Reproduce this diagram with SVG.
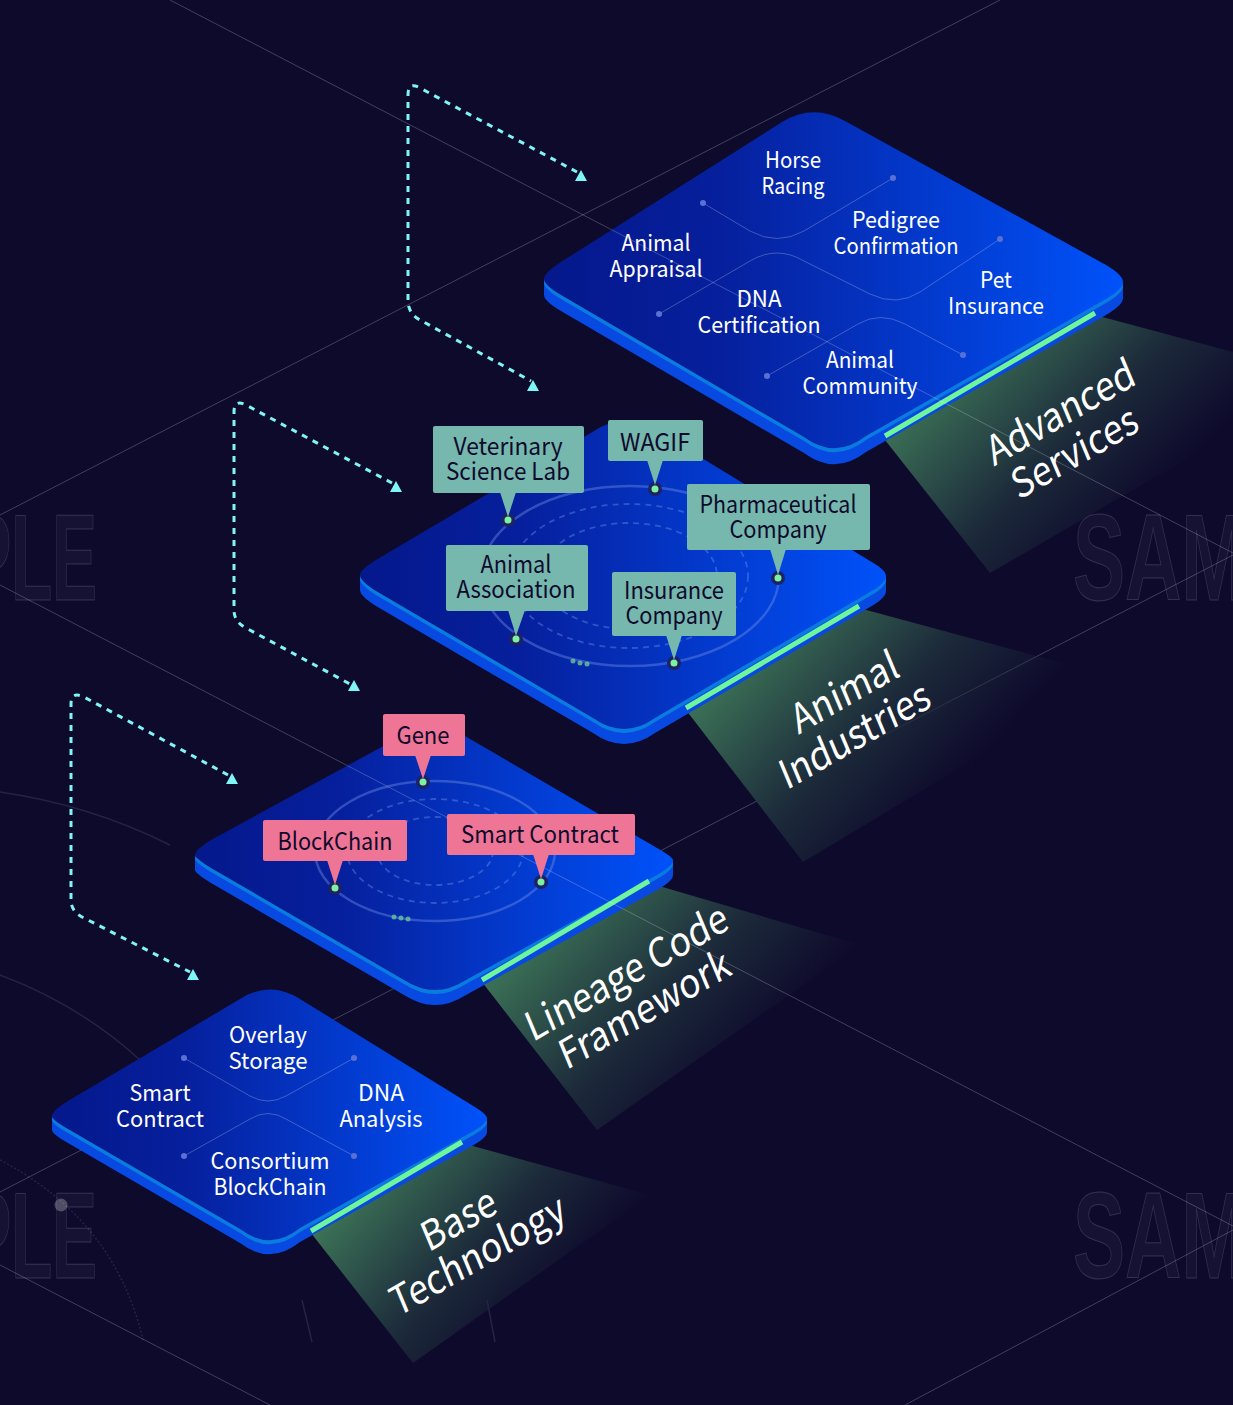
<svg xmlns="http://www.w3.org/2000/svg" xmlns:xlink="http://www.w3.org/1999/xlink" width="1233" height="1405" viewBox="0 0 1233 1405">
<style>
text{font-family:"Noto Sans CJK KR","Noto Sans",sans-serif;text-anchor:middle}
.w{fill:#fff;font-size:22.5px}
.d{fill:#0e0a2c;font-size:24px}
.big{fill:#fff;font-size:36.5px}
.wm{font-family:"Liberation Sans",sans-serif;font-weight:700;font-size:122px;fill:#fff;fill-opacity:.035;stroke:#fff;stroke-opacity:.14;stroke-width:1}
.bg{fill:none;stroke:#fff;stroke-opacity:.22;stroke-width:1}
.dim{fill:none;stroke:#fff;stroke-opacity:.1;stroke-width:1.5}
.side{fill:#0849e2}
.rim{fill:#0a7ce0}
.bar{stroke:#6ff59c;stroke-width:5;fill:none}
.dash{fill:none;stroke:#7ff5f5;stroke-width:3;stroke-dasharray:6 6}
.head{fill:#7ff5f5}
.curve{fill:none;stroke:#fff;stroke-opacity:.24;stroke-width:1}
.cd{fill:#5a70d4}
.ring{fill:none;stroke:#6f8fe8;stroke-opacity:.42;stroke-width:2.5}
.ringd{fill:none;stroke:#6f8fe8;stroke-opacity:.42;stroke-width:1.8;stroke-dasharray:6 5}
.teal{fill:#76b7ae}
.pink{fill:#ee7595}
.po{fill:#1d2263}
.pi{fill:#7df29e}
.tri{fill:#6fcf97;opacity:.75}
</style>
<defs>
<linearGradient id="sf" x1="0" y1="0" x2="1" y2="0">
<stop offset="0" stop-color="#05188c"/><stop offset=".3" stop-color="#061f9c"/><stop offset="1" stop-color="#0052fa"/>
</linearGradient>
<linearGradient id="bm1" gradientUnits="userSpaceOnUse" x1="950" y1="340" x2="1130" y2="520"><stop offset="0" stop-color="#3f7a5a"/><stop offset=".6" stop-color="#1c2a3a"/><stop offset="1" stop-color="#1c2a3a" stop-opacity="0"/></linearGradient>
<linearGradient id="bm2" gradientUnits="userSpaceOnUse" x1="740" y1="630" x2="930" y2="810"><stop offset="0" stop-color="#3f7a5a"/><stop offset=".6" stop-color="#1c2a3a"/><stop offset="1" stop-color="#1c2a3a" stop-opacity="0"/></linearGradient>
<linearGradient id="bm3" gradientUnits="userSpaceOnUse" x1="540" y1="900" x2="730" y2="1080"><stop offset="0" stop-color="#3f7a5a"/><stop offset=".6" stop-color="#1c2a3a"/><stop offset="1" stop-color="#1c2a3a" stop-opacity="0"/></linearGradient>
<linearGradient id="bm4" gradientUnits="userSpaceOnUse" x1="360" y1="1160" x2="540" y2="1320"><stop offset="0" stop-color="#3f7a5a"/><stop offset=".6" stop-color="#1c2a3a"/><stop offset="1" stop-color="#1c2a3a" stop-opacity="0"/></linearGradient>
<path id="p1" d="M782,122Q813,103 845,121L1106,265Q1123,275 1123,282Q1123,289 1106,299L866,436Q835,460 804,437L561,295Q544,285 544,279Q544,273 561,262Z"/>
<path id="p2" d="M594,431Q625,411 656,430L870,561Q886,570 886,576Q886,583 870,592L655,718Q624,740 593,718L376,591Q360,581 360,575Q360,570 376,560Z"/>
<path id="p3" d="M400,737Q430,718 458,732L657,848Q673,857 673,860Q673,866 657,875L466,980Q435,1000 404,980L211,868Q195,858 195,855Q195,850 211,840Z"/>
<path id="p4" d="M240,999Q270,980 300,999L470,1104Q487,1114 487,1118Q487,1124 470,1133L300,1228Q270,1252 240,1229L68,1129Q52,1120 52,1116Q52,1111 68,1101Z"/>
</defs>
<rect width="1233" height="1405" fill="#0e0a2c"/>
<g id="background">
<text class="wm" x="97" y="600" style="text-anchor:end" transform="translate(97 600) scale(.55 1) translate(-97 -600)">PLE</text>
<text class="wm" x="97" y="1278" style="text-anchor:end" transform="translate(97 1278) scale(.55 1) translate(-97 -1278)">PLE</text>
<text class="wm" x="1073" y="600" style="text-anchor:start" transform="translate(1073 600) scale(.64 1) translate(-1073 -600)">SAM</text>
<text class="wm" x="1073" y="1278" style="text-anchor:start" transform="translate(1073 1278) scale(.64 1) translate(-1073 -1278)">SAM</text>
<path class="bg" d="M1000,0L0,515M0,1192L1233,555M0,1265L270,1405M905,1405L1233,1230"/>
<path class="dim" d="M0,792Q90,805 170,845M0,975Q80,1005 140,1060"/>
<path class="dim" stroke-dasharray="2 2" d="M0,1160Q115,1220 143,1340"/>
<circle cx="61" cy="1205" r="6.5" fill="#fff" fill-opacity=".25"/>
<path class="dim" d="M302,1300L312,1342M487,1300L495,1342"/>
</g>
<g id="beams">
<polygon fill="url(#bm1)" points="885,440 1095,315 1233,352 1233,432 990,573"/>
<polygon fill="url(#bm2)" points="686,710 859,608 1070,665 1090,690 803,862"/>
<polygon fill="url(#bm3)" points="482,982 649,883 860,945 597,1130"/>
<polygon fill="url(#bm4)" points="311,1233 462,1143 650,1195 413,1363"/>
</g>
<g id="plate-base">
<polygon class="side" points="360,575 360,590 886,591 886,576"/><use xlink:href="#p2" class="side" y="15"/>
<use xlink:href="#p2" class="rim" y="4"/><use xlink:href="#p2" fill="url(#sf)"/>
<path class="bar" d="M686,708L859,606"/>
<g id="plate-lineage">
<polygon class="side" points="195,855 195,870 673,875 673,860"/><use xlink:href="#p3" class="side" y="15"/>
<use xlink:href="#p3" class="rim" y="4"/><use xlink:href="#p3" fill="url(#sf)"/>
<path class="bar" d="M482,980L649,881"/>
</g>
<g id="plate-tech">
<polygon class="side" points="52,1116 52,1130 487,1132 487,1118"/><use xlink:href="#p4" class="side" y="14"/>
<use xlink:href="#p4" class="rim" y="4"/><use xlink:href="#p4" fill="url(#sf)"/>
<path class="bar" d="M311,1231L462,1142"/>
</g>
<g id="plate-advanced">
<polygon class="side" points="544,279 544,295 1123,298 1123,282"/><use xlink:href="#p1" class="side" y="16"/>
<use xlink:href="#p1" class="rim" y="4"/><use xlink:href="#p1" fill="url(#sf)"/>
<path class="bar" d="M885,436L1095,313"/>
</g>
</g>
<g id="connectors">
<path class="bg" d="M170,0L1233,553M0,585L1233,1226"/>
<path class="dash" d="M577,172L420,88Q408,81 408,95L408,300Q408,314 420,320L531,381"/>
<polygon class="head" points="575,181 587,181 581,170"/><polygon class="head" points="527,391 539,391 533,380"/>
<path class="dash" d="M392,483L246,405Q234,399 234,412L234,610Q234,622 246,628L350,684"/>
<polygon class="head" points="390,492 402,492 396,481"/><polygon class="head" points="348,691 360,691 354,680"/>
<path class="dash" d="M228,775L84,697Q71,691 71,704L71,900Q71,912 84,918L190,972"/>
<polygon class="head" points="226,784 238,784 232,773"/><polygon class="head" points="187,980 199,980 193,969"/>
<g id="curves">
<path class="curve" d="M703,203L750,231Q777,246 804,231L893,178"/>
<path class="curve" d="M659,314L750,261Q777,245 804,261L870,294Q897,307 920,292L1000,239"/>
<path class="curve" d="M767,376L858,324Q880,311 905,324L963,355"/>
<path class="curve" d="M184,1058L250,1096Q268,1106 286,1096L354,1058"/>
<path class="curve" d="M184,1156L250,1119Q268,1108 286,1119L354,1156"/>
<g class="cd"><circle cx="703" cy="203" r="3"/><circle cx="893" cy="178" r="3"/><circle cx="659" cy="314" r="3"/><circle cx="1000" cy="239" r="3"/><circle cx="767" cy="376" r="3"/><circle cx="963" cy="355" r="3"/><circle cx="184" cy="1058" r="3"/><circle cx="354" cy="1058" r="3"/><circle cx="184" cy="1156" r="3"/><circle cx="354" cy="1156" r="3"/></g>
</g>
<g id="rings-2">
<ellipse class="ring" cx="630" cy="576" rx="149" ry="90"/><ellipse class="ringd" cx="629" cy="576" rx="119" ry="72"/><ellipse class="ringd" cx="629" cy="576" rx="88" ry="53"/>
<circle class="tri" cx="573" cy="661" r="2.5"/><circle class="tri" cx="580" cy="663" r="2.5"/><circle class="tri" cx="587" cy="664" r="2.5"/>
</g>
<g id="rings-3">
<ellipse class="ring" cx="435" cy="851" rx="120" ry="70"/><ellipse class="ringd" cx="435" cy="851" rx="88" ry="52"/><ellipse class="ringd" cx="435" cy="851" rx="58" ry="34"/>
<circle class="tri" cx="394" cy="917" r="2.5"/><circle class="tri" cx="401" cy="918" r="2.5"/><circle class="tri" cx="408" cy="919" r="2.5"/>
</g>
</g>
<g id="n-horse"><text class="w" x="793" y="168" textLength="56" lengthAdjust="spacingAndGlyphs">Horse</text><text class="w" x="793" y="194" textLength="63" lengthAdjust="spacingAndGlyphs">Racing</text></g>
<g id="n-pedigree"><text class="w" x="896" y="228" textLength="88" lengthAdjust="spacingAndGlyphs">Pedigree</text><text class="w" x="896" y="254" textLength="125" lengthAdjust="spacingAndGlyphs">Confirmation</text></g>
<g id="n-appraisal"><text class="w" x="656" y="251" textLength="69" lengthAdjust="spacingAndGlyphs">Animal</text><text class="w" x="656" y="277" textLength="93" lengthAdjust="spacingAndGlyphs">Appraisal</text></g>
<g id="n-dna"><text class="w" x="759" y="307" textLength="45" lengthAdjust="spacingAndGlyphs">DNA</text><text class="w" x="759" y="333" textLength="123" lengthAdjust="spacingAndGlyphs">Certification</text></g>
<g id="n-pet"><text class="w" x="996" y="288" textLength="32" lengthAdjust="spacingAndGlyphs">Pet</text><text class="w" x="996" y="314" textLength="96" lengthAdjust="spacingAndGlyphs">Insurance</text></g>
<g id="n-community"><text class="w" x="860" y="368" textLength="68" lengthAdjust="spacingAndGlyphs">Animal</text><text class="w" x="860" y="394" textLength="115" lengthAdjust="spacingAndGlyphs">Community</text></g>
<g id="n-overlay"><text class="w" x="268" y="1043" textLength="78" lengthAdjust="spacingAndGlyphs">Overlay</text><text class="w" x="268" y="1069" textLength="79" lengthAdjust="spacingAndGlyphs">Storage</text></g>
<g id="n-smart"><text class="w" x="160" y="1101" textLength="61" lengthAdjust="spacingAndGlyphs">Smart</text><text class="w" x="160" y="1127" textLength="88" lengthAdjust="spacingAndGlyphs">Contract</text></g>
<g id="n-dna2"><text class="w" x="381" y="1101" textLength="46" lengthAdjust="spacingAndGlyphs">DNA</text><text class="w" x="381" y="1127" textLength="83" lengthAdjust="spacingAndGlyphs">Analysis</text></g>
<g id="n-consortium"><text class="w" x="270" y="1169" textLength="119" lengthAdjust="spacingAndGlyphs">Consortium</text><text class="w" x="270" y="1195" textLength="113" lengthAdjust="spacingAndGlyphs">BlockChain</text></g>
<g id="n-vet"><circle class="po" cx="508" cy="520" r="7"/><circle class="pi" cx="508" cy="520" r="3.5"/><rect class="teal" x="433" y="426" width="151" height="67" rx="2"/><polygon class="teal" points="500,492 516,492 508,517"/><text class="d" x="508" y="455" textLength="109" lengthAdjust="spacingAndGlyphs">Veterinary</text><text class="d" x="508" y="480" textLength="124" lengthAdjust="spacingAndGlyphs">Science Lab</text></g>
<g id="n-wagif"><circle class="po" cx="655" cy="489" r="7"/><circle class="pi" cx="655" cy="489" r="3.5"/><rect class="teal" x="608" y="420" width="95" height="41" rx="2"/><polygon class="teal" points="647,460 663,460 655,485"/><text class="d" x="655" y="451" textLength="70" lengthAdjust="spacingAndGlyphs">WAGIF</text></g>
<g id="n-pharma"><circle class="po" cx="778" cy="578" r="7"/><circle class="pi" cx="778" cy="578" r="3.5"/><rect class="teal" x="687" y="484" width="183" height="66" rx="2"/><polygon class="teal" points="770,549 786,549 778,575"/><text class="d" x="778" y="513" textLength="157" lengthAdjust="spacingAndGlyphs">Pharmaceutical</text><text class="d" x="778" y="538" textLength="97" lengthAdjust="spacingAndGlyphs">Company</text></g>
<g id="n-assoc"><circle class="po" cx="516" cy="639" r="7"/><circle class="pi" cx="516" cy="639" r="3.5"/><rect class="teal" x="446" y="545" width="142" height="66" rx="2"/><polygon class="teal" points="508,610 525,610 516,636"/><text class="d" x="516" y="573" textLength="71" lengthAdjust="spacingAndGlyphs">Animal</text><text class="d" x="516" y="598" textLength="119" lengthAdjust="spacingAndGlyphs">Association</text></g>
<g id="n-insurance"><circle class="po" cx="674" cy="663" r="7"/><circle class="pi" cx="674" cy="663" r="3.5"/><rect class="teal" x="612" y="572" width="124" height="64" rx="2"/><polygon class="teal" points="666,635 682,635 674,660"/><text class="d" x="674" y="599" textLength="100" lengthAdjust="spacingAndGlyphs">Insurance</text><text class="d" x="674" y="624" textLength="97" lengthAdjust="spacingAndGlyphs">Company</text></g>
<g id="n-gene"><circle class="po" cx="423" cy="782" r="7"/><circle class="pi" cx="423" cy="782" r="3.5"/><rect class="pink" x="383" y="714" width="82" height="42" rx="2"/><polygon class="pink" points="415,755 431,755 423,779"/><text class="d" x="423" y="744" textLength="53" lengthAdjust="spacingAndGlyphs">Gene</text></g>
<g id="n-blockchain"><circle class="po" cx="335" cy="888" r="7"/><circle class="pi" cx="335" cy="888" r="3.5"/><rect class="pink" x="263" y="820" width="144" height="41" rx="2"/><polygon class="pink" points="327,860 343,860 335,885"/><text class="d" x="335" y="850" textLength="115" lengthAdjust="spacingAndGlyphs">BlockChain</text></g>
<g id="n-contract"><circle class="po" cx="541" cy="882" r="7"/><circle class="pi" cx="541" cy="882" r="3.5"/><rect class="pink" x="447" y="814" width="188" height="41" rx="2"/><polygon class="pink" points="533,854 549,854 541,879"/><text class="d" x="540" y="843" textLength="158" lengthAdjust="spacingAndGlyphs">Smart Contract</text></g>
<g id="titles">
<text class="big" transform="matrix(.866 -.5 .42 1 1066 425)">Advanced</text>
<text class="big" transform="matrix(.866 -.5 .42 1 1080 465)">Services</text>
<text class="big" transform="matrix(.866 -.5 .42 1 850 705)">Animal</text>
<text class="big" transform="matrix(.866 -.5 .42 1 860 748)">Industries</text>
<text class="big" transform="matrix(.866 -.5 .42 1 632 985)">Lineage Code</text>
<text class="big" transform="matrix(.866 -.5 .42 1 650 1022)">Framework</text>
<text class="big" transform="matrix(.866 -.5 .42 1 464 1232)">Base</text>
<text class="big" transform="matrix(.866 -.5 .42 1 483 1268)">Technology</text>
</g>
</svg>
